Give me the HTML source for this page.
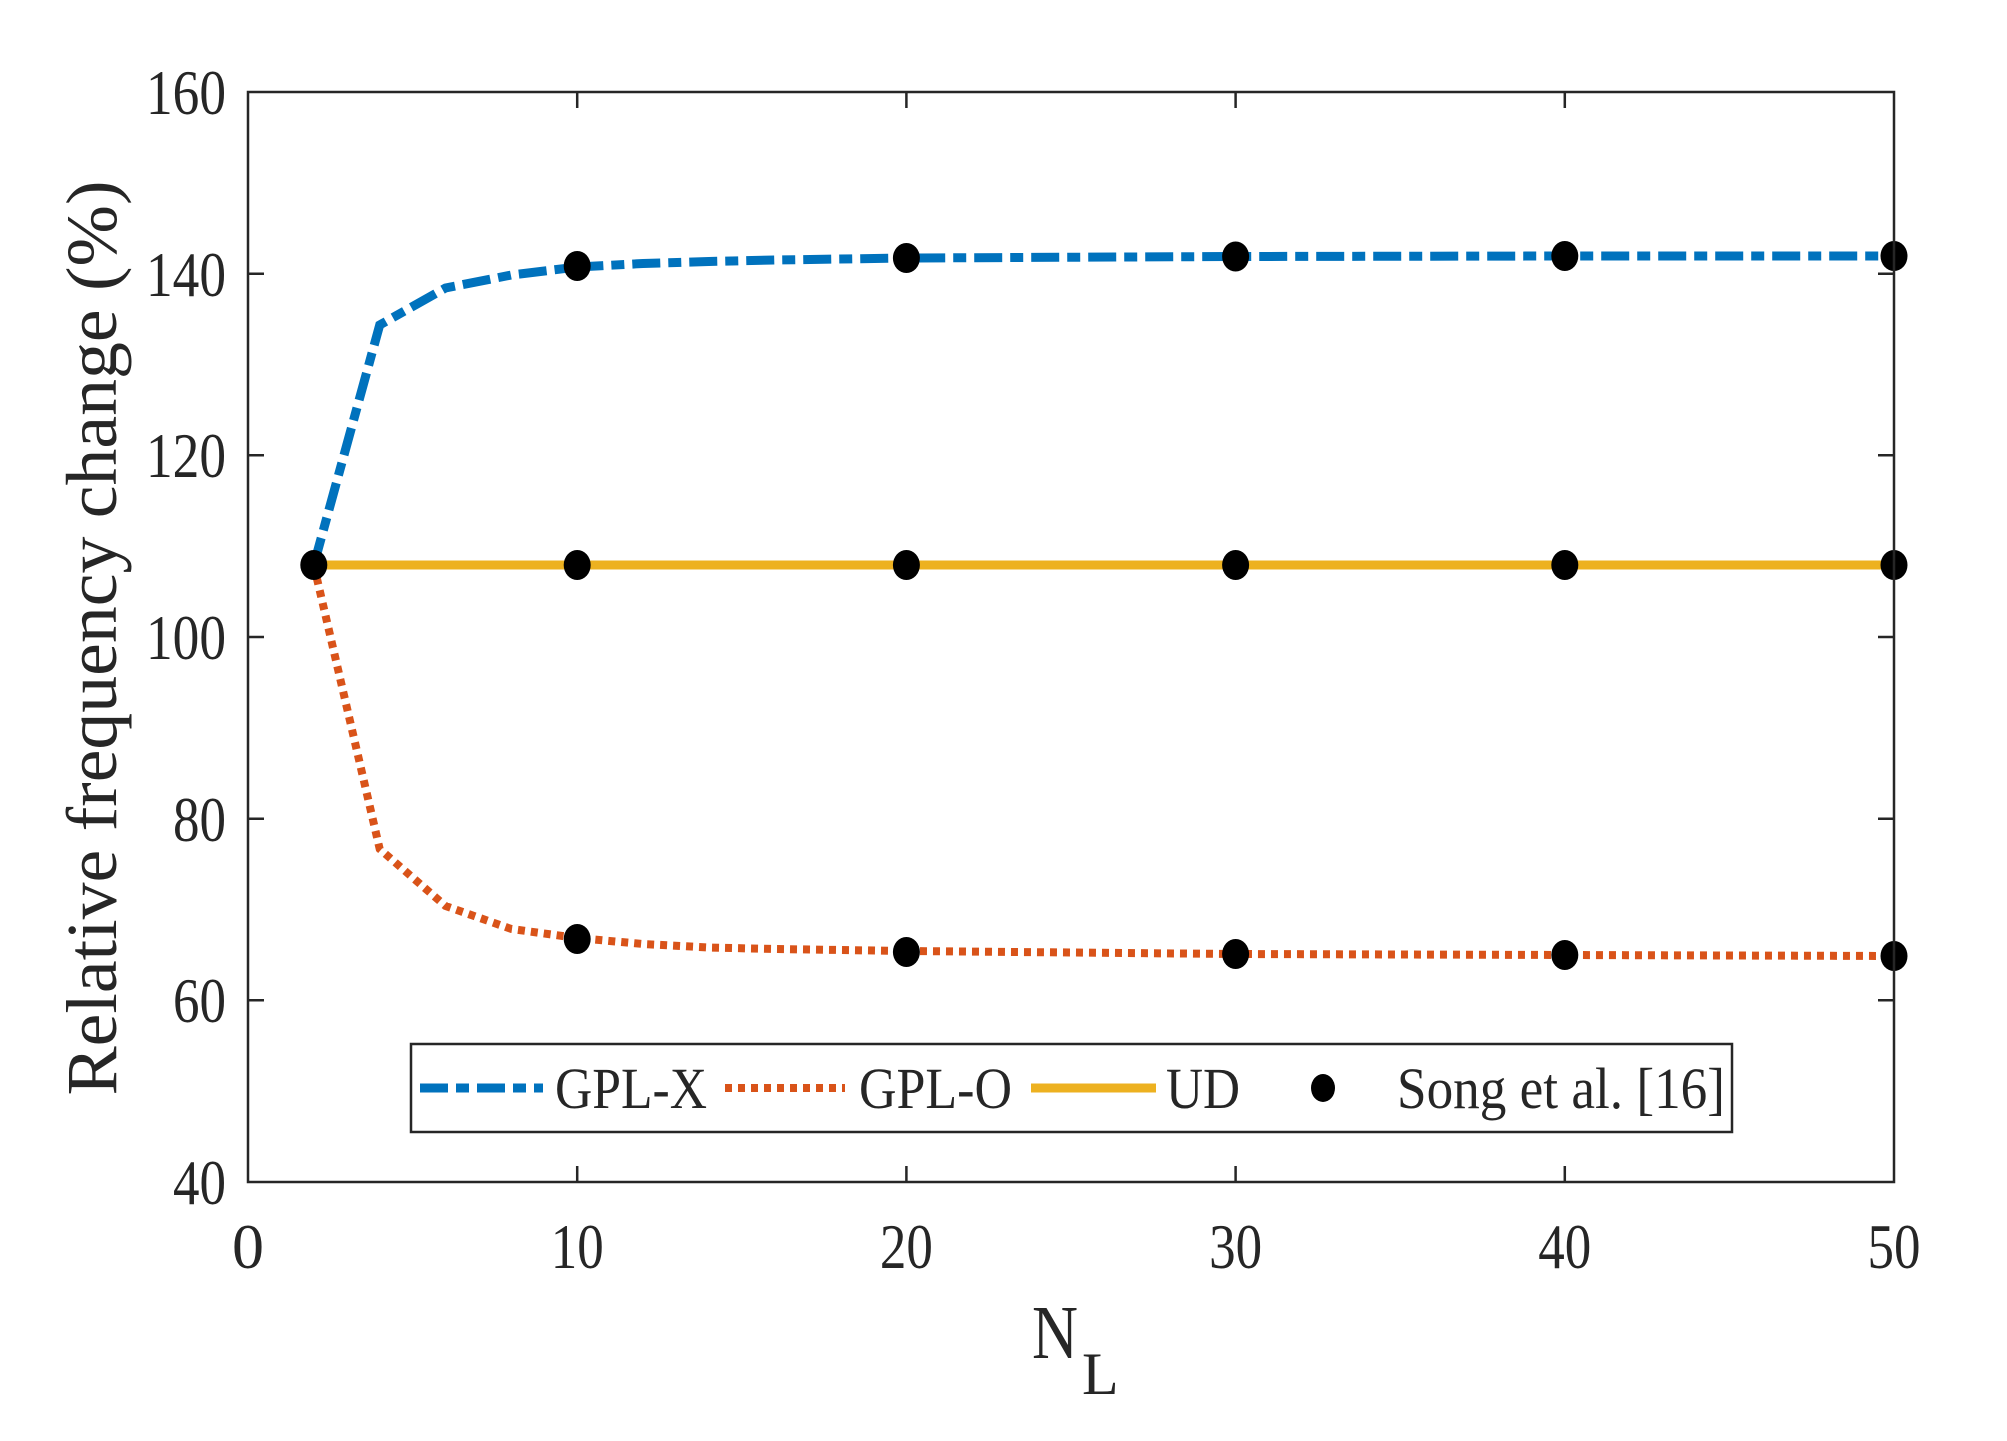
<!DOCTYPE html>
<html><head><meta charset="utf-8"><style>
html,body{margin:0;padding:0;background:#fff;}
svg{display:block;}
text{font-family:"Liberation Serif","Times New Roman",serif;fill:#262626;}
</style></head><body>
<svg width="2007" height="1441" viewBox="0 0 2007 1441" xmlns="http://www.w3.org/2000/svg">
<rect width="2007" height="1441" fill="#fff"/>
<g stroke="#262626" stroke-width="2.5" fill="none">
<path d="M248,273.7h16M248,455.3h16M248,637h16M248,818.7h16M248,1000.3h16"/>
<path d="M1894,273.7h-16M1894,455.3h-16M1894,637h-16M1894,818.7h-16M1894,1000.3h-16"/>
<path d="M577.2,1182v-16M906.4,1182v-16M1235.6,1182v-16M1564.8,1182v-16"/>
<path d="M577.2,92v16M906.4,92v16M1235.6,92v16M1564.8,92v16"/>
</g>
<polyline fill="none" stroke="#EDB120" stroke-width="9" points="313.8,565 1894,565"/>
<polyline fill="none" stroke="#0072BD" stroke-width="9" stroke-dasharray="28,8,13,8"
 points="313.8,565 379.7,325 445.5,288 511.4,275 577.2,267 643,263.5 708.9,261.5 774.7,260 906.4,258 1235.6,256.5 1564.8,256 1894,256"/>
<polyline fill="none" stroke="#D95319" stroke-width="8" stroke-dasharray="7,6"
 points="313.8,565 379.7,849 445.5,906 511.4,929 577.2,938 643,944 708.9,947.5 774.7,949 906.4,951 1235.6,954 1564.8,955 1894,956"/>
<g fill="#000">
<ellipse cx="313.8" cy="565" rx="13.5" ry="15"/>
<ellipse cx="577.2" cy="266" rx="13.5" ry="15"/><ellipse cx="577.2" cy="565" rx="13.5" ry="15"/><ellipse cx="577.2" cy="939" rx="13.5" ry="15"/>
<ellipse cx="906.4" cy="258" rx="13.5" ry="15"/><ellipse cx="906.4" cy="565" rx="13.5" ry="15"/><ellipse cx="906.4" cy="952" rx="13.5" ry="15"/>
<ellipse cx="1235.6" cy="256.5" rx="13.5" ry="15"/><ellipse cx="1235.6" cy="565" rx="13.5" ry="15"/><ellipse cx="1235.6" cy="954" rx="13.5" ry="15"/>
<ellipse cx="1564.8" cy="256" rx="13.5" ry="15"/><ellipse cx="1564.8" cy="565" rx="13.5" ry="15"/><ellipse cx="1564.8" cy="955" rx="13.5" ry="15"/>
<ellipse cx="1894" cy="256" rx="13.5" ry="15"/><ellipse cx="1894" cy="565" rx="13.5" ry="15"/><ellipse cx="1894" cy="956" rx="13.5" ry="15"/>
</g>
<rect x="248" y="92" width="1646" height="1090" fill="none" stroke="#262626" stroke-width="2.5"/>
<g font-size="64" text-anchor="end">
<text x="226" y="114" textLength="80" lengthAdjust="spacingAndGlyphs">160</text>
<text x="226" y="296" textLength="80" lengthAdjust="spacingAndGlyphs">140</text>
<text x="226" y="477" textLength="80" lengthAdjust="spacingAndGlyphs">120</text>
<text x="226" y="659" textLength="80" lengthAdjust="spacingAndGlyphs">100</text>
<text x="226" y="841" textLength="53" lengthAdjust="spacingAndGlyphs">80</text>
<text x="226" y="1022" textLength="53" lengthAdjust="spacingAndGlyphs">60</text>
<text x="226" y="1204" textLength="53" lengthAdjust="spacingAndGlyphs">40</text>
</g>
<g font-size="64" text-anchor="middle">
<text x="248" y="1268">0</text>
<text x="577.2" y="1268" textLength="53" lengthAdjust="spacingAndGlyphs">10</text>
<text x="906.4" y="1268" textLength="53" lengthAdjust="spacingAndGlyphs">20</text>
<text x="1235.6" y="1268" textLength="53" lengthAdjust="spacingAndGlyphs">30</text>
<text x="1564.8" y="1268" textLength="53" lengthAdjust="spacingAndGlyphs">40</text>
<text x="1894" y="1268" textLength="53" lengthAdjust="spacingAndGlyphs">50</text>
</g>
<text transform="translate(116,638) rotate(-90)" font-size="72" text-anchor="middle" textLength="915" lengthAdjust="spacingAndGlyphs">Relative frequency change (%)</text>
<text x="1032" y="1358" font-size="76" textLength="46" lengthAdjust="spacingAndGlyphs">N</text>
<text x="1082" y="1394" font-size="60">L</text>
<rect x="411" y="1044" width="1321" height="88" fill="#fff" stroke="#262626" stroke-width="2.5"/>
<line x1="420" y1="1088" x2="543" y2="1088" stroke="#0072BD" stroke-width="9" stroke-dasharray="28,8,13,8"/>
<line x1="725" y1="1088" x2="845" y2="1088" stroke="#D95319" stroke-width="8" stroke-dasharray="7,6"/>
<line x1="1031" y1="1088" x2="1156" y2="1088" stroke="#EDB120" stroke-width="9"/>
<ellipse cx="1323" cy="1088" rx="12" ry="14" fill="#000"/>
<g font-size="58" style="fill:#000">
<text x="555" y="1108" textLength="152" lengthAdjust="spacingAndGlyphs">GPL-X</text>
<text x="859" y="1108" textLength="153" lengthAdjust="spacingAndGlyphs">GPL-O</text>
<text x="1166" y="1108" textLength="74" lengthAdjust="spacingAndGlyphs">UD</text>
<text x="1397" y="1108" textLength="328" lengthAdjust="spacingAndGlyphs">Song et al. [16]</text>
</g>
</svg>
</body></html>
